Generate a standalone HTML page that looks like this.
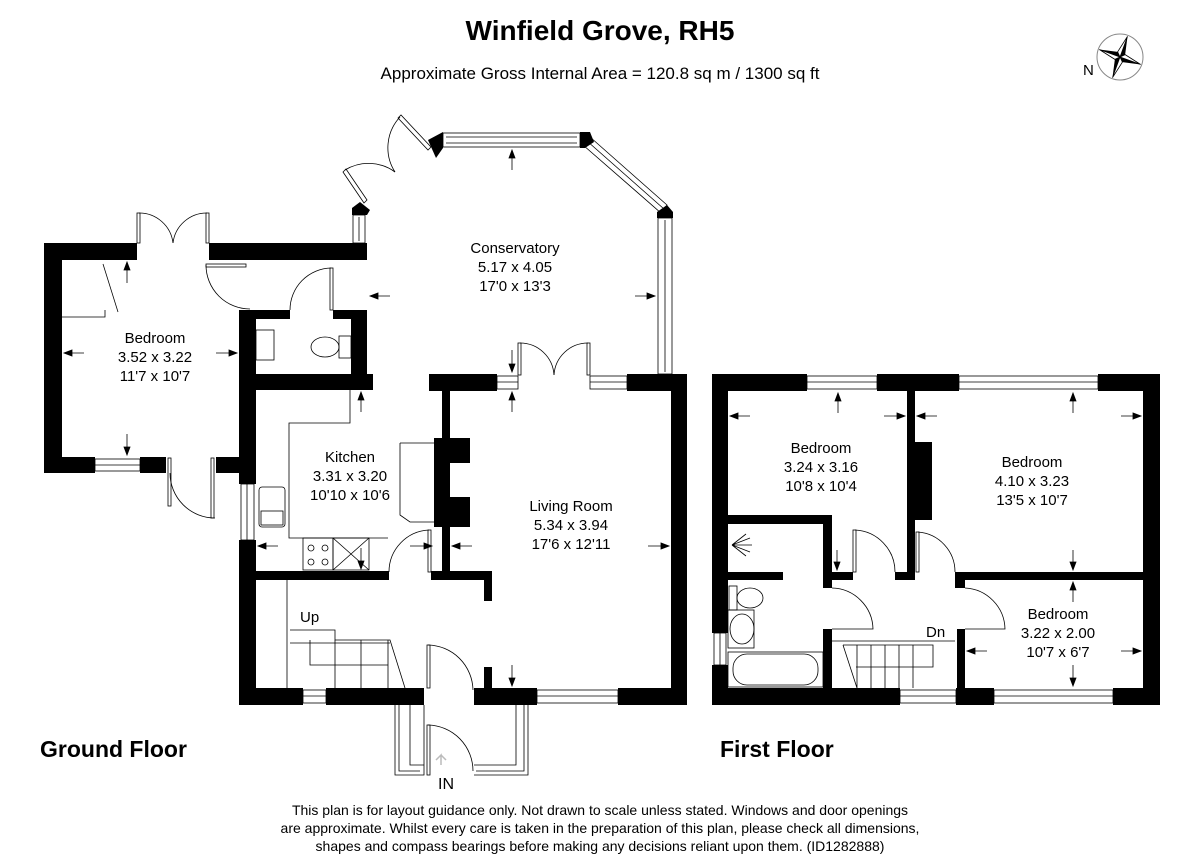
<!DOCTYPE html>
<html><head><meta charset="utf-8"><style>
html,body{margin:0;padding:0;background:#fff}
svg{display:block}
text{font-family:"Liberation Sans",Arial,sans-serif;fill:#000}
</style></head><body>
<svg width="1200" height="867" viewBox="0 0 1200 867" xmlns="http://www.w3.org/2000/svg">
<text x="600" y="40" font-size="28" font-weight="bold" text-anchor="middle">Winfield Grove, RH5</text>
<text x="600" y="79" font-size="17" text-anchor="middle">Approximate Gross Internal Area = 120.8 sq m / 1300 sq ft</text>

<!-- compass -->
<g transform="translate(1120,57)">
<circle r="23" fill="none" stroke="#888" stroke-width="1"/>
<g transform="rotate(20)">
<polygon points="0,-22 4,-4 0,0" fill="#000"/><polygon points="0,-22 -4,-4 0,0" fill="#fff" stroke="#000" stroke-width="0.8"/>
<polygon points="22,0 4,4 0,0" fill="#000"/><polygon points="22,0 4,-4 0,0" fill="#fff" stroke="#000" stroke-width="0.8"/>
<polygon points="0,22 -4,4 0,0" fill="#000"/><polygon points="0,22 4,4 0,0" fill="#fff" stroke="#000" stroke-width="0.8"/>
<polygon points="-22,0 -4,-4 0,0" fill="#000"/><polygon points="-22,0 -4,4 0,0" fill="#fff" stroke="#000" stroke-width="0.8"/>
</g>
</g>
<text x="1083" y="75" font-size="15">N</text>

<g fill="#000">
<rect x="44" y="243" width="18" height="230"/>
<rect x="44" y="243" width="93" height="17"/>
<rect x="209" y="243" width="158" height="17"/>
<rect x="44" y="457" width="51" height="16"/>
<rect x="140" y="457" width="26" height="16"/>
<rect x="216" y="457" width="40" height="16"/>
<rect x="239" y="310" width="17" height="174"/>
<rect x="239" y="540" width="17" height="165"/>
<rect x="239" y="310" width="51" height="9"/>
<rect x="333" y="310" width="34" height="9"/>
<rect x="351" y="310" width="16" height="80"/>
<rect x="239" y="374" width="134" height="16"/>
<rect x="256" y="571" width="133" height="9"/>
<rect x="431" y="571" width="61" height="9"/>
<rect x="484" y="571" width="8" height="30"/>
<rect x="484" y="667" width="8" height="21"/>
<rect x="442" y="391" width="8" height="189"/>
<rect x="434" y="438" width="36" height="25"/>
<rect x="434" y="463" width="16" height="34"/>
<rect x="434" y="497" width="36" height="30"/>
<rect x="429" y="374" width="68" height="17"/>
<rect x="627" y="374" width="60" height="17"/>
<rect x="671" y="374" width="16" height="331"/>
<rect x="239" y="688" width="64" height="17"/>
<rect x="326" y="688" width="98" height="17"/>
<rect x="474" y="688" width="63" height="17"/>
<rect x="618" y="688" width="69" height="17"/>
<polygon points="428,140 443,132 443,148 436,158"/>
<polygon points="580,132 590,132 594,142 585,148 580,148"/>
<polygon points="657,212 667,205 673,212 673,218 657,218"/>
<polygon points="352,208 360,202 370,210 367,215 352,215"/>

<rect x="712" y="374" width="16" height="259"/>
<rect x="712" y="665" width="16" height="40"/>
<rect x="712" y="374" width="95" height="17"/>
<rect x="877" y="374" width="82" height="17"/>
<rect x="1098" y="374" width="62" height="17"/>
<rect x="1143" y="374" width="17" height="331"/>
<rect x="712" y="688" width="188" height="17"/>
<rect x="956" y="688" width="38" height="17"/>
<rect x="1113" y="688" width="47" height="17"/>
<rect x="907" y="391" width="8" height="189"/>
<rect x="907" y="442" width="25" height="78"/>
<rect x="728" y="515" width="104" height="9"/>
<rect x="823" y="515" width="9" height="73"/>
<rect x="823" y="572" width="30" height="8"/>
<rect x="895" y="572" width="20" height="8"/>
<rect x="955" y="572" width="188" height="8"/>
<rect x="955" y="572" width="10" height="16"/>
<rect x="728" y="572" width="55" height="8"/>
<rect x="823" y="629" width="9" height="59"/>
<rect x="957" y="629" width="8" height="76"/>
</g>

<g fill="none" stroke="#000" stroke-width="0.8">
<rect x="95" y="459" width="45" height="12"/><line x1="95" y1="465" x2="140" y2="465"/>
<rect x="241" y="484" width="13" height="56"/><line x1="247" y1="484" x2="247" y2="540"/>
<rect x="303" y="690" width="23" height="13"/><line x1="303" y1="696" x2="326" y2="696"/>
<rect x="537" y="690" width="81" height="13"/><line x1="537" y1="696" x2="618" y2="696"/>
<rect x="497" y="376" width="21" height="13"/><line x1="497" y1="382" x2="518" y2="382"/>
<rect x="590" y="376" width="37" height="13"/><line x1="590" y1="382" x2="627" y2="382"/>
<rect x="443" y="133" width="137" height="14"/><line x1="446" y1="137" x2="577" y2="137"/><line x1="446" y1="143" x2="577" y2="143"/>
<polygon points="590,137 667,205 661,213 583,145"/><line x1="587" y1="141" x2="664" y2="209"/>
<rect x="658" y="218" width="14" height="156"/><line x1="665" y1="220" x2="665" y2="372"/>
<rect x="353" y="215" width="12" height="28"/><line x1="359" y1="217" x2="359" y2="241"/>
<polygon points="343,172 346,169 367,200 364,203"/>
<path d="M345,170 A45,45 0 0 1 395,172"/>
<polygon points="398,118 401,115 431,147 428,150"/>
<path d="M400,117 A45,45 0 0 0 395,172"/>
<rect x="518" y="343" width="3" height="32"/><path d="M520,343 A34,34 0 0 1 554,375"/>
<rect x="587" y="343" width="3" height="32"/><path d="M588,343 A34,34 0 0 0 554,375"/>
<rect x="137" y="213" width="3" height="30"/><path d="M139,213 A34,34 0 0 1 173,243"/>
<rect x="206" y="213" width="3" height="30"/><path d="M207,213 A34,34 0 0 0 173,243"/>
<rect x="206" y="264" width="40" height="3"/><path d="M206,265 A44,44 0 0 0 250,309"/>
<rect x="330" y="268" width="3" height="42"/><path d="M331,268 A42,42 0 0 0 290,310"/>
<rect x="168" y="458" width="3" height="48"/><path d="M170,473 A45,45 0 0 0 215,518"/><rect x="211" y="458" width="3" height="60"/>
<rect x="428" y="530" width="3" height="42"/><path d="M429,530 A42,42 0 0 0 389,572"/>
<rect x="427" y="645" width="3" height="43"/><path d="M428,645 A46,46 0 0 1 473,690"/>
<path d="M256,384 L350,384 L350,423 L289,423 L289,538 L388,538"/>
<path d="M400,443 L434,443 M400,443 L400,515 L410,522 L434,522"/>
<rect x="259" y="487" width="26" height="40" rx="3"/>
<rect x="261" y="511" width="22" height="14"/>
<rect x="303" y="538" width="30" height="32"/>
<rect x="333" y="538" width="36" height="32"/><path d="M333,538 L369,570 M369,538 L333,570"/>
<circle cx="311" cy="548" r="3"/><circle cx="325" cy="548" r="3"/><circle cx="311" cy="562" r="3"/><circle cx="325" cy="562" r="3"/>
<rect x="256" y="330" width="18" height="30"/>
<ellipse cx="325" cy="347" rx="14" ry="10"/><rect x="339" y="336" width="12" height="22"/>
<path d="M62,317 L105,317 L105,310"/><path d="M103,264 L118,312"/>
<line x1="287" y1="580" x2="287" y2="688"/>
<path d="M290,630 L335,630 L335,640 L390,640 L405,688"/>
<path d="M290,643 L390,643"/>
<path d="M310,640 L310,665 L388,665"/>
<path d="M335,640 L335,688 M361,640 L361,688 M388,640 L388,688"/>
<path d="M395,705 L395,775 L424,775 L424,705 M399,705 L399,771 L420,771 M410,705 L410,765 L424,765"/>
<path d="M528,705 L528,775 L474,775 M524,705 L524,771 L476,771 M516,705 L516,765 L474,765"/>
<rect x="427" y="725" width="3" height="50"/><path d="M428,725 A46,46 0 0 1 473,771"/>

<rect x="807" y="376" width="70" height="13"/><line x1="807" y1="382" x2="877" y2="382"/>
<rect x="959" y="376" width="139" height="13"/><line x1="959" y1="382" x2="1098" y2="382"/>
<rect x="900" y="690" width="56" height="13"/><line x1="900" y1="696" x2="956" y2="696"/>
<rect x="994" y="690" width="119" height="13"/><line x1="994" y1="696" x2="1113" y2="696"/>
<rect x="714" y="633" width="12" height="32"/><line x1="720" y1="633" x2="720" y2="665"/>
<rect x="853" y="530" width="3" height="42"/><path d="M855,530 A42,42 0 0 1 895,572"/>
<rect x="916" y="532" width="3" height="40"/><path d="M918,532 A40,40 0 0 1 955,572"/>
<path d="M832,588 A42,42 0 0 1 873,629 L832,629"/>
<path d="M965,588 A42,42 0 0 1 1005,629 L965,629"/>
<ellipse cx="750" cy="598" rx="13" ry="10"/><rect x="729" y="586" width="8" height="24"/>
<rect x="728" y="610" width="26" height="38"/><ellipse cx="742" cy="629" rx="12" ry="15"/>
<rect x="728" y="652" width="95" height="35"/><rect x="733" y="654" width="85" height="31" rx="14"/>
<path d="M732,545 L750,538 M732,545 L750,552 M732,545 L746,534 M732,545 L746,556 M732,545 L752,545"/>
<path d="M832,641 L955,641 M843,645 L933,645 L933,667 L856,667"/>
<path d="M843,645 L857,688 M857,645 L857,688 M871,645 L871,688 M885,645 L885,688 M899,645 L899,688 M913,645 L913,688"/>
</g>

<g stroke="#000" stroke-width="0.8" fill="#000">
<line x1="127" y1="262" x2="127" y2="283"/><polygon points="127,262 124,270 130,270"/>
<line x1="127" y1="434" x2="127" y2="455"/><polygon points="127,455 124,447 130,447"/>
<line x1="64" y1="353" x2="84" y2="353"/><polygon points="64,353 72,350 72,356"/>
<line x1="216" y1="353" x2="237" y2="353"/><polygon points="237,353 229,350 229,356"/>
<line x1="361" y1="392" x2="361" y2="412"/><polygon points="361,392 358,400 364,400"/>
<line x1="258" y1="546" x2="278" y2="546"/><polygon points="258,546 266,543 266,549"/>
<line x1="361" y1="548" x2="361" y2="569"/><polygon points="361,569 358,561 364,561"/>
<line x1="370" y1="296" x2="390" y2="296"/><polygon points="370,296 378,293 378,299"/>
<line x1="635" y1="296" x2="655" y2="296"/><polygon points="655,296 647,293 647,299"/>
<line x1="512" y1="150" x2="512" y2="170"/><polygon points="512,150 509,158 515,158"/>
<line x1="512" y1="350" x2="512" y2="372"/><polygon points="512,372 509,364 515,364"/>
<line x1="512" y1="392" x2="512" y2="412"/><polygon points="512,392 509,400 515,400"/>
<line x1="512" y1="665" x2="512" y2="686"/><polygon points="512,686 509,678 515,678"/>
<line x1="452" y1="546" x2="472" y2="546"/><polygon points="452,546 460,543 460,549"/>
<line x1="410" y1="546" x2="432" y2="546"/><polygon points="432,546 424,543 424,549"/>
<line x1="648" y1="546" x2="669" y2="546"/><polygon points="669,546 661,543 661,549"/>
<line x1="730" y1="416" x2="750" y2="416"/><polygon points="730,416 738,413 738,419"/>
<line x1="884" y1="416" x2="905" y2="416"/><polygon points="905,416 897,413 897,419"/>
<line x1="838" y1="393" x2="838" y2="413"/><polygon points="838,393 835,401 841,401"/>
<line x1="837" y1="550" x2="837" y2="570"/><polygon points="837,570 834,562 840,562"/>
<line x1="917" y1="416" x2="937" y2="416"/><polygon points="917,416 925,413 925,419"/>
<line x1="1121" y1="416" x2="1141" y2="416"/><polygon points="1141,416 1133,413 1133,419"/>
<line x1="1073" y1="393" x2="1073" y2="413"/><polygon points="1073,393 1070,401 1076,401"/>
<line x1="1073" y1="550" x2="1073" y2="570"/><polygon points="1073,570 1070,562 1076,562"/>
<line x1="1073" y1="582" x2="1073" y2="602"/><polygon points="1073,582 1070,590 1076,590"/>
<line x1="1073" y1="665" x2="1073" y2="686"/><polygon points="1073,686 1070,678 1076,678"/>
<line x1="967" y1="651" x2="987" y2="651"/><polygon points="967,651 975,648 975,654"/>
<line x1="1121" y1="651" x2="1141" y2="651"/><polygon points="1141,651 1133,648 1133,654"/>
</g>
<path d="M441,765 L441,755 L436,760 M441,755 L446,760" stroke="#bbb" fill="none" stroke-width="1.5"/>

<g font-size="15" text-anchor="middle">
<text x="155" y="343">Bedroom</text><text x="155" y="362">3.52 x 3.22</text><text x="155" y="381">11'7 x 10'7</text>
<text x="515" y="253">Conservatory</text><text x="515" y="272">5.17 x 4.05</text><text x="515" y="291">17'0 x 13'3</text>
<text x="350" y="462">Kitchen</text><text x="350" y="481">3.31 x 3.20</text><text x="350" y="500">10'10 x 10'6</text>
<text x="571" y="511">Living Room</text><text x="571" y="530">5.34 x 3.94</text><text x="571" y="549">17'6 x 12'11</text>
<text x="821" y="453">Bedroom</text><text x="821" y="472">3.24 x 3.16</text><text x="821" y="491">10'8 x 10'4</text>
<text x="1032" y="467">Bedroom</text><text x="1032" y="486">4.10 x 3.23</text><text x="1032" y="505">13'5 x 10'7</text>
<text x="1058" y="619">Bedroom</text><text x="1058" y="638">3.22 x 2.00</text><text x="1058" y="657">10'7 x 6'7</text>
</g>
<text x="300" y="622" font-size="15">Up</text>
<text x="926" y="637" font-size="15">Dn</text>
<text x="438" y="789" font-size="16">IN</text>
<text x="40" y="757" font-size="23" font-weight="bold">Ground Floor</text>
<text x="720" y="757" font-size="23" font-weight="bold">First Floor</text>
<g font-size="14" text-anchor="middle">
<text x="600" y="815">This plan is for layout guidance only. Not drawn to scale unless stated. Windows and door openings</text>
<text x="600" y="833">are approximate. Whilst every care is taken in the preparation of this plan, please check all dimensions,</text>
<text x="600" y="851">shapes and compass bearings before making any decisions reliant upon them. (ID1282888)</text>
</g>
</svg>
</body></html>
